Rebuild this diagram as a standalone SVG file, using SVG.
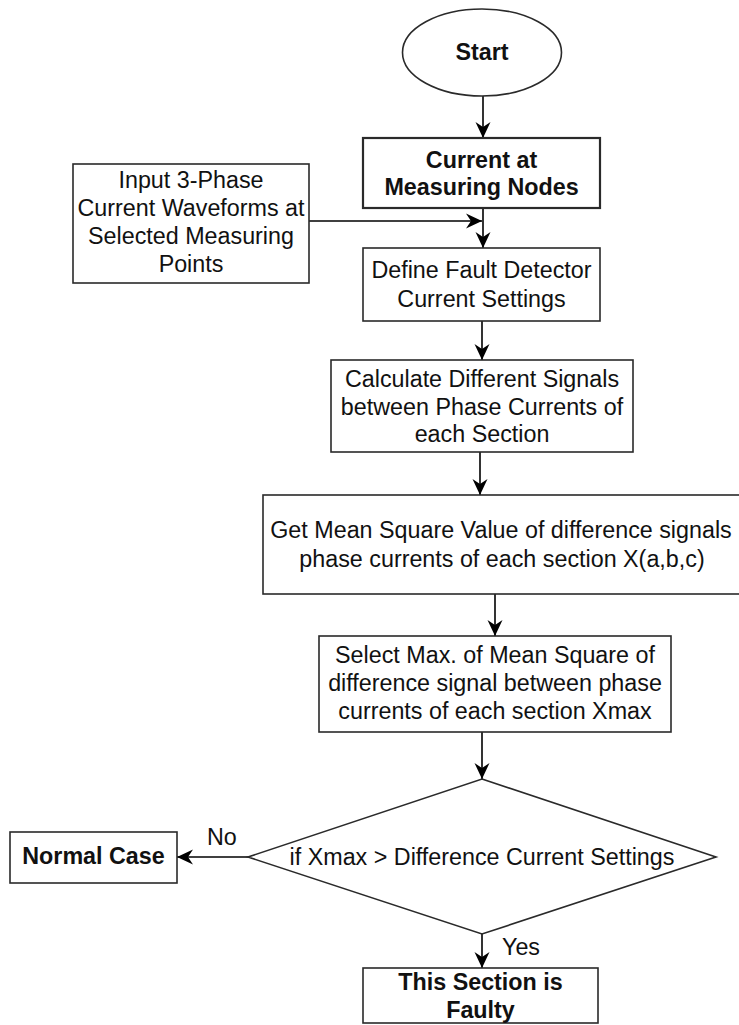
<svg xmlns="http://www.w3.org/2000/svg" width="739" height="1025" viewBox="0 0 739 1025">
<style>
.box{fill:#fff;stroke:#2a2a2a;stroke-width:1.6}
.t{font-family:"Liberation Sans",Arial,sans-serif;font-size:23.3px;fill:#111;text-anchor:middle}
.b{font-weight:bold}
.l{font-family:"Liberation Sans",Arial,sans-serif;font-size:23.3px;fill:#111}
.c{fill:none;stroke:#000;stroke-width:1.6}
</style>
<defs>
<marker id="arr" markerUnits="userSpaceOnUse" markerWidth="16" markerHeight="16" viewBox="0 0 16 16" refX="16" refY="8" orient="auto">
<path d="M0,0.5 L16,8 L0,15.5 L5,8 Z" fill="#000"/>
</marker>
</defs>
<rect width="739" height="1025" fill="#fff"/>
<g id="connectors">
<line class="c" x1="483" y1="96" x2="483" y2="138" marker-end="url(#arr)"/>
<line class="c" x1="483" y1="208" x2="483" y2="248" marker-end="url(#arr)"/>
<line class="c" x1="309" y1="221" x2="482" y2="221" marker-end="url(#arr)"/>
<line class="c" x1="482" y1="321" x2="482" y2="360" marker-end="url(#arr)"/>
<line class="c" x1="480" y1="452" x2="480" y2="495" marker-end="url(#arr)"/>
<line class="c" x1="495" y1="594" x2="495" y2="636" marker-end="url(#arr)"/>
<line class="c" x1="482" y1="732" x2="482" y2="779" marker-end="url(#arr)"/>
<line class="c" x1="482" y1="934" x2="482" y2="968" marker-end="url(#arr)"/>
<line class="c" x1="248" y1="857" x2="177" y2="857" marker-end="url(#arr)"/>
<text class="l" x="207" y="845">No</text>
<text class="l" x="502" y="955">Yes</text>
</g>
<g id="start">
<ellipse class="box" cx="482" cy="52.5" rx="79.5" ry="43.5"/>
<text class="t b" x="482" y="60">Start</text>
</g>
<g id="current">
<rect class="box" x="363" y="138" width="237" height="70" style="stroke-width:2.2"/>
<text class="t b" x="481.5" y="168">Current at</text>
<text class="t b" x="481.5" y="195">Measuring Nodes</text>
</g>
<g id="input">
<rect class="box" x="73" y="164" width="236" height="119"/>
<text class="t" x="191" y="188">Input 3-Phase</text>
<text class="t" x="191" y="216">Current Waveforms at</text>
<text class="t" x="191" y="244">Selected Measuring</text>
<text class="t" x="191" y="272">Points</text>
</g>
<g id="define">
<rect class="box" x="363" y="248" width="237" height="73"/>
<text class="t" x="481.5" y="278">Define Fault Detector</text>
<text class="t" x="481.5" y="307">Current Settings</text>
</g>
<g id="calculate">
<rect class="box" x="331" y="360" width="302" height="92"/>
<text class="t" x="482" y="387">Calculate Different Signals</text>
<text class="t" x="482" y="415">between Phase Currents of</text>
<text class="t" x="482" y="442">each Section</text>
</g>
<g id="meansquare">
<rect class="box" x="263" y="495" width="478" height="99"/>
<text class="t" x="501" y="538">Get Mean Square Value of difference signals</text>
<text class="t" x="502" y="567">phase currents of each section X(a,b,c)</text>
</g>
<g id="selectmax">
<rect class="box" x="319" y="636" width="352" height="96"/>
<text class="t" x="495" y="663">Select Max. of Mean Square of</text>
<text class="t" x="495" y="691">difference signal between phase</text>
<text class="t" x="495" y="719">currents of each section Xmax</text>
</g>
<g id="decision">
<polygon class="box" points="482,779 716,857 482,934 248,857"/>
<text class="t" x="482" y="865">if Xmax &gt; Difference Current Settings</text>
</g>
<g id="normal">
<rect class="box" x="10" y="832" width="167" height="51"/>
<text class="t b" x="93.5" y="864">Normal Case</text>
</g>
<g id="faulty">
<rect class="box" x="363" y="968" width="235" height="55"/>
<text class="t b" x="480.5" y="990">This Section is</text>
<text class="t b" x="480.5" y="1018">Faulty</text>
</g>
</svg>
